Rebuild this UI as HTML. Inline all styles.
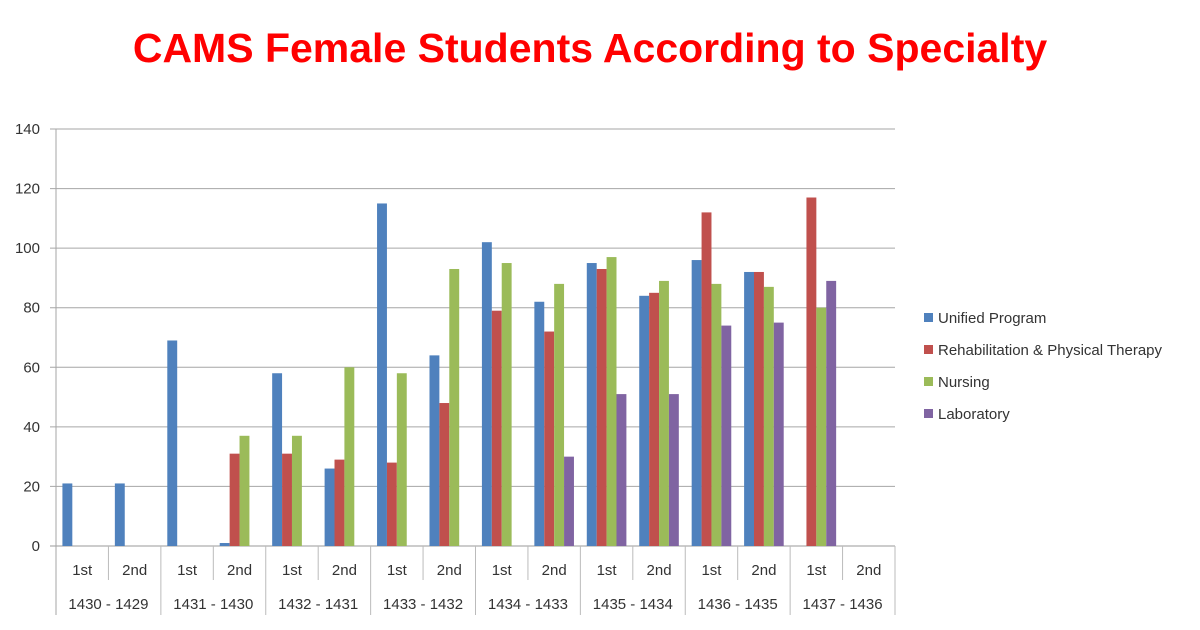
<!DOCTYPE html>
<html><head><meta charset="utf-8"><style>
body{margin:0;background:#fff;width:1200px;height:625px;overflow:hidden;font-family:"Liberation Sans",sans-serif}
</style></head><body>
<svg id="c" width="1200" height="625" xmlns="http://www.w3.org/2000/svg">
<text x="590" y="62" text-anchor="middle" font-family="Liberation Sans, sans-serif" font-weight="bold" font-size="41" fill="#ff0000">CAMS Female Students According to Specialty</text>
<g id="grid"></g><g id="bars"></g><g id="axis"></g><g id="legend"></g>
</svg>
<script>
const categories=["1st","2nd","1st","2nd","1st","2nd","1st","2nd","1st","2nd","1st","2nd","1st","2nd","1st","2nd"];
const years=["1430 - 1429","1431 - 1430","1432 - 1431","1433 - 1432","1434 - 1433","1435 - 1434","1436 - 1435","1437 - 1436"];
const seriesNames=["Unified Program","Rehabilitation & Physical Therapy","Nursing","Laboratory"];
const unified=[21,21,69,1,58,26,115,64,102,82,95,84,96,92,0,0];
const rehab=[0,0,0,31,31,29,28,48,79,72,93,85,112,92,117,0];
const nursing=[0,0,0,37,37,60,58,93,95,88,97,89,88,87,80,0];
const laboratory=[0,0,0,0,0,0,0,0,0,30,51,51,74,75,89,0];
const yTicks=[0,20,40,60,80,100,120,140];
const colors=["#4f81bd","#c0504d","#9bbb59","#8064a2"];
const NS="http://www.w3.org/2000/svg";
const X0=56,X1=895,Y0=546,Y1=129,YMAX=140;
const gw=(X1-X0)/categories.length;
const y=v=>Y0-(v/YMAX)*(Y0-Y1);
const xg=i=>X0+i*gw;
function mk(t,a,p){const e=document.createElementNS(NS,t);for(const k in a)e.setAttribute(k,a[k]);p.appendChild(e);return e;}
const grid=document.getElementById('grid'),bars=document.getElementById('bars'),axis=document.getElementById('axis'),legend=document.getElementById('legend');
yTicks.forEach(t=>{
 const l=mk('line',{x1:X0-6,x2:X1,y1:y(t),y2:y(t),stroke:t===0?'#999':'#a6a6a6','stroke-width':1},grid);
 
 
 const tx=mk('text',{x:X0-16,y:y(t)+5,'text-anchor':'end','font-size':15,fill:'#333'},axis);
 tx.textContent=t;
 
 
});
mk('line',{x1:X0,x2:X0,y1:Y1,y2:615,stroke:'#a6a6a6'},axis);
const series=[unified,rehab,nursing,laboratory];
const bw=9.9,off=(gw-4*bw)/2;
series.forEach((s,si)=>{s.forEach((v,i)=>{
 if(v<=0)return;
 const r=mk('rect',{x:xg(i)+off+si*bw,y:y(v),width:bw,height:Y0-y(v),fill:colors[si]},bars);
 
 
});});
categories.forEach((c,i)=>{
 const tx=mk('text',{x:xg(i)+gw/2,y:575,'text-anchor':'middle','font-size':15,fill:'#333'},axis);
 tx.textContent=c;
 
 
 mk('line',{x1:xg(i+1),x2:xg(i+1),y1:Y0,y2:(i%2)?615:580,stroke:'#bbb'},axis);
});
years.forEach((yr,i)=>{
 const tx=mk('text',{x:xg(2*i)+gw,y:609,'text-anchor':'middle','font-size':15,fill:'#333'},axis);
 tx.textContent=yr;
 
 
});
seriesNames.forEach((n,i)=>{
 const g=mk('g',{},legend);
 
 
 mk('rect',{x:924,y:313+i*32,width:9,height:9,fill:colors[i]},g);
 const tx=mk('text',{x:938,y:323+i*32,'font-size':15,fill:'#333'},g);
 tx.textContent=n;
});
</script>
</body></html>
